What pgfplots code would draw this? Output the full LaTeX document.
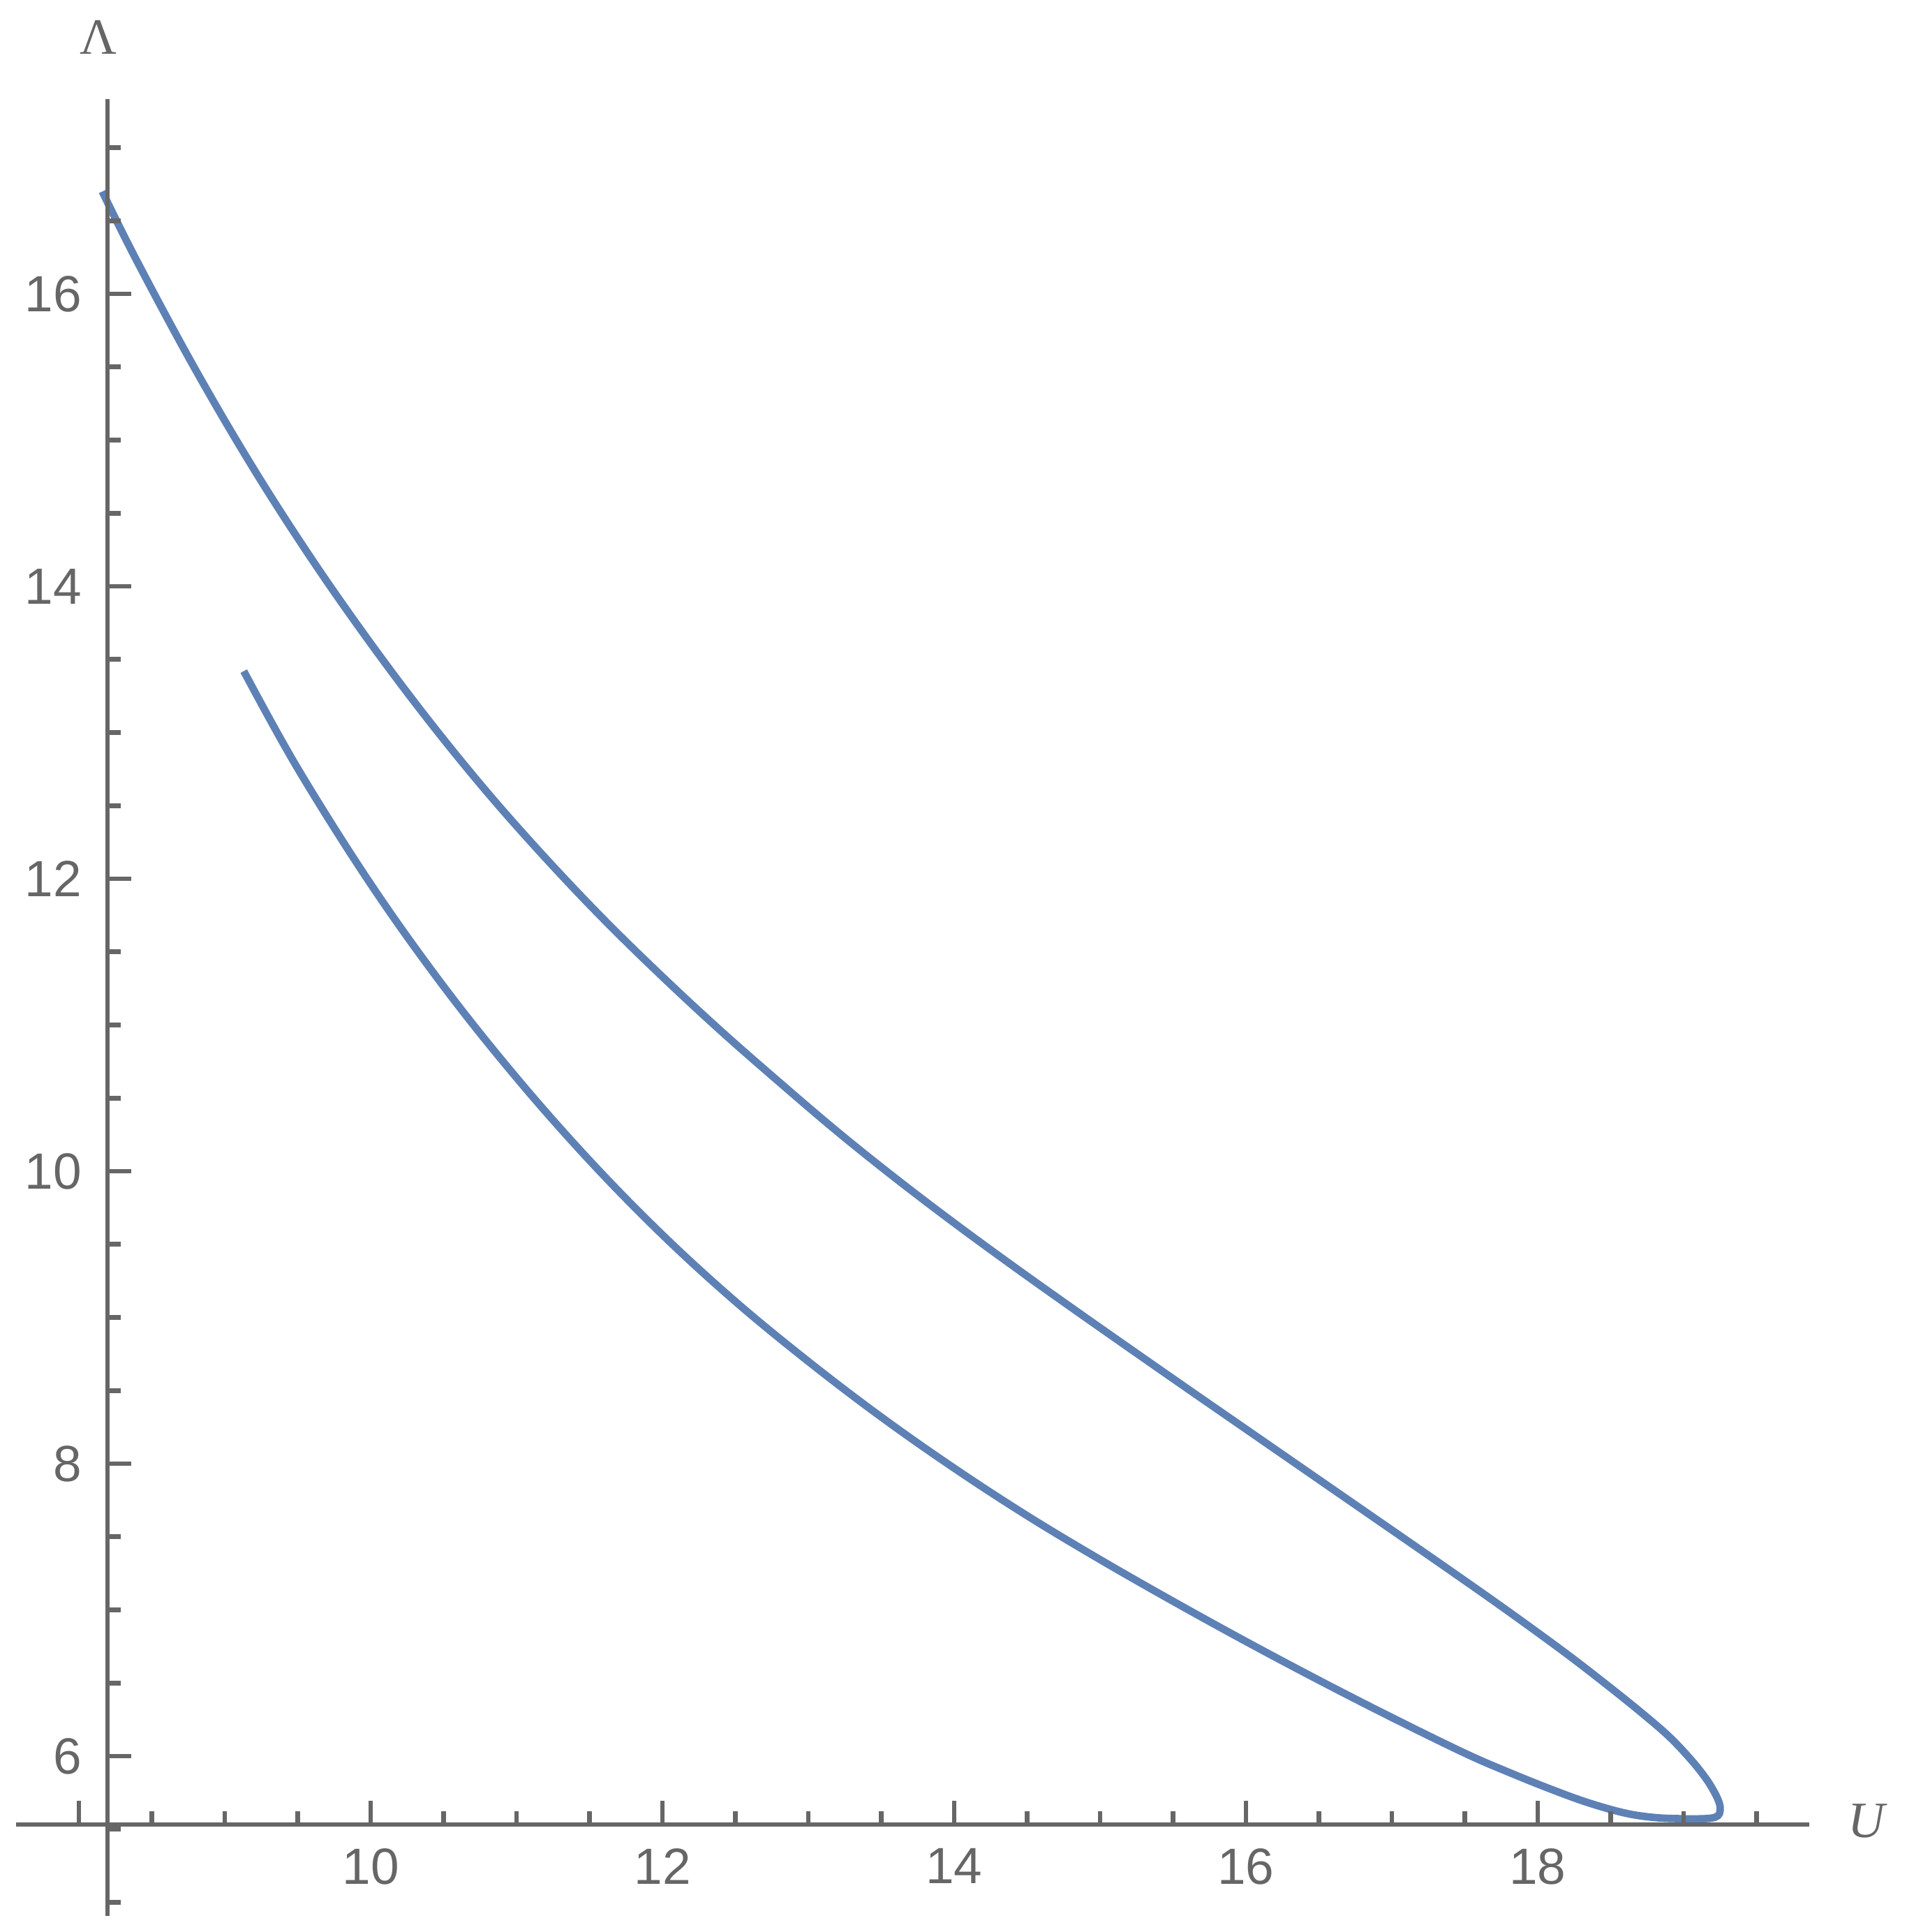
\documentclass[border=0pt]{standalone}
\usepackage{pgfplots}
\pgfplotsset{compat=1.18}
\usepackage{fontspec}
\setmainfont{Liberation Sans}
\newfontfamily\lsserif{Liberation Serif}
\definecolor{mmaBlue}{rgb}{0.368417,0.506779,0.709798}
\definecolor{axgray}{gray}{0.4}
\begin{document}
\begin{tikzpicture}
\begin{axis}[x=27.5pt, y=27.566pt, scale only axis,
  xmin=7.57, xmax=19.86, ymin=4.907, ymax=17.33,
  hide axis, clip=false]
% page extent
\path (axis cs:7.459,4.797) rectangle (axis cs:20.531,18.010);
\addplot[mmaBlue, line width=1.4pt, smooth, tension=0.6] coordinates {
(9.13,13.42) (9.5,12.754) (10.0,11.964) (10.5,11.264) (11.0,10.639)
(11.5,10.074) (12.0,9.565) (12.5,9.109) (13.0,8.699) (13.5,8.319)
(14.0,7.969) (14.5,7.644) (15.0,7.344) (15.5,7.059) (16.0,6.784)
(16.5,6.519) (17.0,6.264) (17.5,6.02) (17.8,5.89) (18.1,5.77)
(18.35,5.68) (18.6,5.61) (18.8,5.58) (18.98,5.572) (19.1,5.571)
(19.19,5.576) (19.235,5.592) (19.25,5.625) (19.245,5.678) (19.21,5.755)
(19.15,5.851) (19.05,5.976) (18.9,6.134) (18.7,6.306) (18.46,6.498)
(18.2,6.698) (17.9,6.917) (17.6,7.13) (17.2,7.408) (16.8,7.684)
(16.4,7.96) (16.0,8.236) (15.6,8.512) (15.2,8.79) (14.8,9.07)
(14.4,9.354) (14.0,9.646) (13.6,9.95) (13.2,10.27) (12.8,10.61)
(12.4,10.96) (12.0,11.33) (11.6,11.72) (11.2,12.14) (10.8,12.59)
(10.4,13.08) (10.0,13.61) (9.6,14.18) (9.2,14.80) (8.8,15.48)
(8.4,16.22) (8.16,16.70)
};
% axis lines
\draw[axgray, line width=0.9pt] (axis cs:7.57,5.532) -- (axis cs:19.86,5.532);
\draw[axgray, line width=0.9pt] (axis cs:8.196,4.907) -- (axis cs:8.196,17.33);
% x ticks
\pgfplotsinvokeforeach{8,10,12,14,16,18}{
  \draw[axgray, line width=0.9pt] (axis cs:#1,5.532) -- ([yshift=4.5pt]axis cs:#1,5.532);
}
\pgfplotsinvokeforeach{8.5,9,9.5,10.5,11,11.5,12.5,13,13.5,14.5,15,15.5,16.5,17,17.5,18.5,19,19.5}{
  \draw[axgray, line width=0.9pt] (axis cs:#1,5.532) -- ([yshift=2.5pt]axis cs:#1,5.532);
}
\pgfplotsinvokeforeach{10,12,14,16,18}{
  \node[anchor=north, inner sep=0pt, text=axgray, font=\fontsize{9.6}{11}\selectfont]
    at ([yshift=-4.3pt]axis cs:#1,5.532) {#1};
}
% y ticks
\pgfplotsinvokeforeach{6,8,10,12,14,16}{
  \draw[axgray, line width=0.9pt] (axis cs:8.196,#1) -- ([xshift=4.5pt]axis cs:8.196,#1);
}
\pgfplotsinvokeforeach{5,5.5,6.5,7,7.5,8.5,9,9.5,10.5,11,11.5,12.5,13,13.5,14.5,15,15.5,16.5,17}{
  \draw[axgray, line width=0.9pt] (axis cs:8.196,#1) -- ([xshift=2.5pt]axis cs:8.196,#1);
}
\pgfplotsinvokeforeach{6,8,10,12,14,16}{
  \node[anchor=east, inner sep=0pt, text=axgray, font=\fontsize{9.6}{11}\selectfont]
    at ([xshift=-4.7pt]axis cs:8.196,#1) {#1};
}
% axis labels
\node[text=axgray, inner sep=0pt, font=\fontsize{9.6}{11}\selectfont\lsserif] at (axis cs:8.134,17.757) {Λ};
\node[text=axgray, inner sep=0pt, font=\fontsize{9.6}{11}\selectfont\lsserif\itshape] at (axis cs:20.254,5.556) {U};
\end{axis}
\end{tikzpicture}
\end{document}
